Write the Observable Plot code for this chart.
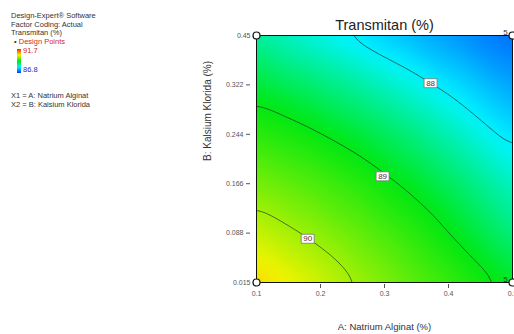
<!DOCTYPE html>
<html><head><meta charset="utf-8">
<script src="https://cdn.jsdelivr.net/npm/d3@7"></script>
<script src="https://cdn.jsdelivr.net/npm/@observablehq/plot@0.6"></script>
<style>
body{margin:0;background:#fff;font-family:"Liberation Sans",Arial,sans-serif;}
#wrap{position:relative;width:514px;height:334px;overflow:hidden;}
#chart{position:absolute;left:0;top:0;}
.leg{position:absolute;font-size:7.5px;line-height:8.5px;color:#333;white-space:nowrap;}
</style></head><body>
<div id="wrap">
<div id="chart"></div>
<div class="leg" style="left:11px;top:12px">Design-Expert® Software<br>Factor Coding: Actual<br>Transmitan (%)</div>
<div class="leg" style="left:14px;top:38px;color:#d02828"><span style="color:#602020">•</span> Design Points</div>
<div id="cbar" style="position:absolute;left:17px;top:49px;width:4px;height:24px"></div>
<div class="leg" id="lmax" style="left:23px;top:47px;color:#d02828"></div>
<div class="leg" id="lmin" style="left:23px;top:66px;color:#2828d0"></div>
<div class="leg" style="left:11px;top:92px">X1 = A: Natrium Alginat<br>X2 = B: Kalsium Klorida</div>
</div>
<script>
// grid of response values: rows = B (bottom→top), columns = A (left→right)
const xValues = [0.1, 0.18, 0.26, 0.34, 0.42, 0.5];
const yValues = [0.015, 0.102, 0.189, 0.276, 0.363, 0.45];
const transmitan = [
  [90.80, 90.39, 89.99, 89.61, 89.25, 88.90],
  [90.27, 89.96, 89.63, 89.28, 88.91, 88.54],
  [89.76, 89.52, 89.24, 88.93, 88.60, 88.25],
  [89.28, 89.07, 88.83, 88.55, 88.24, 87.90],
  [88.83, 88.62, 88.39, 88.13, 87.85, 87.57],
  [88.41, 88.16, 87.92, 87.69, 87.48, 87.29]
];
const contourLevels = [88, 89, 90];
const contourLabelA = [0.372, 0.297, 0.180];
const contourLabelB = [0.366, 0.202, 0.092];
const xTicks = [0.1, 0.2, 0.3, 0.4, 0.5];
const xTickLabels = ["0.1", "0.2", "0.3", "0.4", "0.5"];
const yTicks = [0.015, 0.102, 0.189, 0.276, 0.363, 0.45];
const yTickLabels = ["0.015", "0.088", "0.166", "0.244", "0.322", "0.45"];
const designA = [0.1, 0.1, 0.5, 0.5];
const designB = [0.015, 0.45, 0.45, 0.015];
const designReps = [1, 1, 5, 5];
const colorStops = [87.0, 88.0, 89.0, 90.55, 92.3];
const colorRange = ["#0038ff", "#00f4ff", "#00e810", "#f4f400", "#ff2000"];
const legendMax = "91.7", legendMin = "86.8";
const title = "Transmitan (%)";
const xLabel = "A: Natrium Alginat (%)";
const yLabel = "B: Kalsium Klorida (%)";

const grid = yValues.flatMap((b, i) => xValues.map((a, j) => ({a, b, T: transmitan[i][j]})));
const labels = contourLevels.map((v, i) => ({a: contourLabelA[i], b: contourLabelB[i], v}));
const design = designA.map((a, i) => ({a, b: designB[i], n: designReps[i]}));
const rectSymbol = {draw(ctx) { ctx.moveTo(-6.5, -4.5); ctx.lineTo(6.5, -4.5); ctx.lineTo(6.5, 4.5); ctx.lineTo(-6.5, 4.5); ctx.closePath(); }};
const xFmt = d => xTickLabels[xTicks.indexOf(d)];
const yFmt = d => yTickLabels[yTicks.indexOf(d)];

const chart = Plot.plot({
  width: 514, height: 334,
  marginLeft: 256, marginRight: 2, marginTop: 35, marginBottom: 52,
  style: {fontFamily: "'Liberation Sans', Arial, sans-serif", background: "white"},
  x: {domain: [xTicks[0], xTicks[xTicks.length - 1]]},
  y: {domain: [yTicks[0], yTicks[yTicks.length - 1]]},
  color: {type: "linear", domain: colorStops, range: colorRange, interpolate: "rgb", clamp: true},
  marks: [
    Plot.raster(grid, {x: "a", y: "b", fill: "T", interpolate: "barycentric", pixelSize: 1, blur: 6}),
    Plot.contour(grid, {x: "a", y: "b", value: "T", thresholds: contourLevels, interpolate: "barycentric", pixelSize: 1, blur: 10, fill: "none", stroke: "#1c3326", strokeWidth: 0.8, strokeOpacity: 0.85}),
    Plot.frame({stroke: "#111", strokeWidth: 1}),
    Plot.axisX(xTicks.slice(1, -1), {tickSize: 4, dy: 2, tickPadding: 3, tickFormat: xFmt, fontSize: 7, fill: "#555", stroke: "#555", label: null}),
    Plot.axisX([xTicks[0], xTicks[xTicks.length - 1]], {tickSize: 0, dy: 2, tickPadding: 7, tickFormat: xFmt, fontSize: 7, fill: "#555", label: null}),
    Plot.axisY(yTicks.slice(1, -1), {tickSize: 4, dx: -6, tickPadding: 3, tickFormat: yFmt, fontSize: 7, fill: "#555", stroke: "#555", label: null}),
    Plot.axisY([yTicks[0], yTicks[yTicks.length - 1]], {tickSize: 0, dx: -6, tickPadding: 0, tickFormat: yFmt, fontSize: 7, fill: "#555", label: null}),
    Plot.dot(labels, {x: "a", y: "b", symbol: rectSymbol, r: 5, fill: "white", stroke: "#777", strokeWidth: 0.8}),
    Plot.text(labels, {x: "a", y: "b", text: d => String(d.v), fontSize: 8, fill: "#5a3030"}),
    Plot.dot(design, {x: "a", y: "b", r: 3.5, fill: "white", stroke: "#111", strokeWidth: 1.2}),
    Plot.text(design.filter(d => d.n > 1), {x: "a", y: "b", text: d => String(d.n), dx: -7, dy: -3, fontSize: 8, fill: "#333"}),
    Plot.text([title], {text: d => d, frameAnchor: "top", lineAnchor: "middle", dy: -10, fontSize: 14.5, fill: "#222"}),
    Plot.text([xLabel], {text: d => d, frameAnchor: "bottom", lineAnchor: "middle", dy: 44, fontSize: 9.5, fill: "#333"}),
    Plot.text([yLabel], {text: d => d, frameAnchor: "left", dx: -49, dy: 2, rotate: -90, fontSize: 10, fill: "#333"})
  ]
});
document.getElementById("chart").appendChild(chart);
document.getElementById("cbar").style.background = "linear-gradient(to top," + colorRange.join(",") + ")";
document.getElementById("lmax").textContent = legendMax;
document.getElementById("lmin").textContent = legendMin;
</script>
</body></html>
